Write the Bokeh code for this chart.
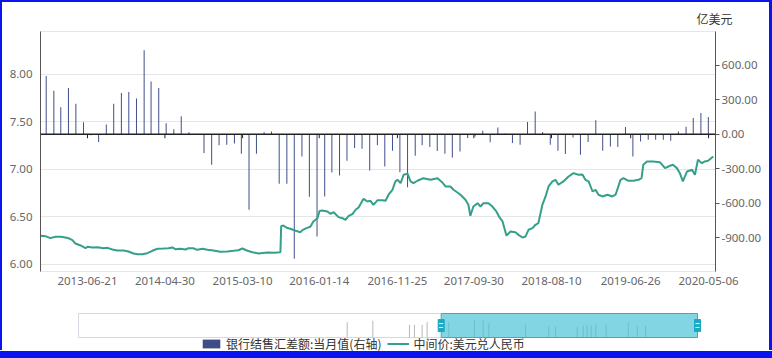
import pandas as pd
from bokeh.plotting import figure
from bokeh.models import (Range1d, LinearAxis, FixedTicker, NumeralTickFormatter,
                          DatetimeTickFormatter, Span, Legend, LegendItem, ColumnDataSource, Div)
from bokeh.layouts import column, row
from bokeh.embed import file_html
from bokeh.resources import INLINE

# ---------------- data ----------------
bar_months = pd.date_range("2013-01-01", "2020-05-01", freq="MS")  # monthly categories
bar_values = [505, 378, 233, 401, 265, 103, -10, -69, 83, 265, 358, 366,
              311, 729, 457, 401, 94, 42, 155, 16, -5, -164, -265, -97,
              -91, -80, -170, -657, -170, 16, 24, -431, -431, -1083, -193, -544,
              -889, -541, -332, -358, -231, -121, -126, -315, -97, -280, -144, -330,
              -462, -187, -97, -112, -147, -170, -202, -150, -34, -20, 30, -71,
              59, 5, -77, -91, 105, 198, 18, -91, -143, -173, -28, -178,
              -69, 120, -144, -106, -112, 62, -193, -63, -48, -48, -48, -57,
              24, 65, 140, 184, 149]

rate_dates = ["2012-12-13", "2013-01-02", "2013-01-22", "2013-02-11", "2013-03-04", "2013-03-24",
              "2013-04-05", "2013-04-21", "2013-05-03", "2013-05-24", "2013-06-13", "2013-06-21",
              "2013-07-11", "2013-07-31", "2013-08-25", "2013-09-10", "2013-09-30", "2013-10-20",
              "2013-11-14", "2013-12-04", "2013-12-24", "2014-01-09", "2014-01-29", "2014-02-18",
              "2014-03-10", "2014-03-31", "2014-04-24", "2014-05-14", "2014-05-30", "2014-06-11",
              "2014-07-02", "2014-07-22", "2014-08-03", "2014-08-23", "2014-09-08", "2014-09-29",
              "2014-10-19", "2014-11-12", "2014-12-10", "2015-01-08", "2015-02-01", "2015-02-21",
              "2015-03-09", "2015-03-30", "2015-04-19", "2015-05-13", "2015-06-19", "2015-07-17",
              "2015-08-10", "2015-08-13", "2015-08-22", "2015-09-07", "2015-09-19", "2015-10-10",
              "2015-10-30", "2015-11-07", "2015-11-23", "2015-12-09", "2015-12-21", "2016-01-07",
              "2016-01-15", "2016-01-27", "2016-02-16", "2016-02-28", "2016-03-12", "2016-04-01",
              "2016-04-17", "2016-04-29", "2016-05-11", "2016-05-28", "2016-06-09", "2016-06-21",
              "2016-07-11", "2016-07-27", "2016-08-08", "2016-08-20", "2016-09-06", "2016-09-25",
              "2016-10-08", "2016-10-20", "2016-11-05", "2016-11-17", "2016-11-25", "2016-12-08",
              "2016-12-20", "2017-01-05", "2017-01-17", "2017-01-29", "2017-02-14", "2017-03-10",
              "2017-04-08", "2017-05-06", "2017-05-26", "2017-06-07", "2017-06-27", "2017-07-10",
              "2017-07-30", "2017-08-07", "2017-08-27", "2017-09-08", "2017-09-16", "2017-09-28",
              "2017-10-15", "2017-10-27", "2017-11-08", "2017-11-28", "2017-12-14", "2017-12-30",
              "2018-01-12", "2018-01-24", "2018-02-09", "2018-02-25", "2018-03-17", "2018-03-29",
              "2018-04-15", "2018-04-27", "2018-05-09", "2018-05-25", "2018-06-06", "2018-06-18",
              "2018-07-04", "2018-07-17", "2018-07-29", "2018-08-14", "2018-08-26", "2018-09-07",
              "2018-09-27", "2018-10-18", "2018-11-07", "2018-11-27", "2018-12-13", "2018-12-25",
              "2019-01-07", "2019-01-23", "2019-02-04", "2019-02-16", "2019-03-04", "2019-03-24",
              "2019-04-13", "2019-04-26", "2019-05-16", "2019-05-28", "2019-06-17", "2019-07-07",
              "2019-07-28", "2019-08-09", "2019-08-16", "2019-08-31", "2019-09-24", "2019-10-22",
              "2019-11-12", "2019-12-02", "2019-12-14", "2019-12-30", "2020-01-11", "2020-01-23",
              "2020-02-09", "2020-02-29", "2020-03-12", "2020-03-24", "2020-04-09", "2020-04-21",
              "2020-05-04", "2020-05-25"]
rate_values = [6.299, 6.295, 6.274, 6.288, 6.288, 6.281,
               6.274, 6.253, 6.218, 6.197, 6.168, 6.183,
               6.176, 6.179, 6.168, 6.172, 6.155, 6.144,
               6.144, 6.134, 6.113, 6.105, 6.105, 6.116,
               6.141, 6.162, 6.165, 6.168, 6.176, 6.158,
               6.162, 6.155, 6.168, 6.168, 6.151, 6.162,
               6.151, 6.144, 6.130, 6.134, 6.141, 6.147,
               6.165, 6.141, 6.126, 6.113, 6.123, 6.120,
               6.126, 6.400, 6.407, 6.380, 6.373, 6.352,
               6.337, 6.358, 6.379, 6.394, 6.449, 6.484,
               6.560, 6.565, 6.555, 6.530, 6.547, 6.495,
               6.484, 6.467, 6.505, 6.530, 6.573, 6.597,
               6.688, 6.660, 6.667, 6.625, 6.674, 6.674,
               6.667, 6.731, 6.783, 6.871, 6.888, 6.853,
               6.941, 6.952, 6.871, 6.853, 6.878, 6.905,
               6.888, 6.905, 6.860, 6.818, 6.818, 6.783,
               6.747, 6.731, 6.678, 6.625, 6.510, 6.607,
               6.642, 6.607, 6.642, 6.642, 6.607, 6.555,
               6.492, 6.450, 6.300, 6.344, 6.337, 6.309,
               6.281, 6.292, 6.362, 6.379, 6.415, 6.432,
               6.625, 6.713, 6.818, 6.871, 6.888, 6.836,
               6.871, 6.923, 6.958, 6.941, 6.945, 6.888,
               6.871, 6.765, 6.783, 6.731, 6.713, 6.731,
               6.713, 6.731, 6.888, 6.905, 6.878, 6.878,
               6.888, 6.905, 7.046, 7.081, 7.081, 7.074,
               7.011, 7.036, 7.046, 7.011, 6.958, 6.871,
               6.976, 6.994, 6.941, 7.099, 7.063, 7.081,
               7.088, 7.134]

x_tick_dates = ["2013-06-21", "2014-04-30", "2015-03-10", "2016-01-14", "2016-11-25",
                "2017-09-30", "2018-08-10", "2019-06-26", "2020-05-06"]
left_ticks = [6.0, 6.5, 7.0, 7.5, 8.0]
right_ticks = [-900, -600, -300, 0, 300, 600]
view_start, view_end = "2012-12-13", "2020-06-03"
full_start, full_end = "2002-05-18", "2020-06-03"
shadow_dates = ["2010-03-18", "2010-12-16", "2012-01-10", "2012-03-03", "2012-05-24", "2012-07-16",
                "2013-03-04", "2013-12-02", "2014-03-05", "2014-05-04", "2015-05-30", "2016-02-01",
                "2016-04-13", "2016-11-30", "2017-02-02", "2017-03-16", "2017-04-28", "2017-06-16",
                "2017-10-05", "2018-05-28", "2018-09-01", "2018-11-28"]
shadow_heights = [0.64, 0.70, 0.53, 0.53, 0.53, 0.64,
                  0.64, 0.71, 0.71, 0.60, 0.53, 0.46,
                  0.46, 0.46, 0.50, 0.50, 0.50, 0.55,
                  0.55, 0.64, 0.50, 0.50]

bar_label = "银行结售汇差额:当月值(右轴)"
line_label = "中间价:美元兑人民币"
unit_label = "亿美元"

# ---------------- styling ----------------
BAR_COLOR = "#3e4c88"
LINE_COLOR = "#35a08a"
AX_FONT = "Noto Sans"
CJK_FONT = "Noto Sans CJK SC"
LBL_COLOR = "#666666"
GRID_COLOR = "#e6e6e6"
FRAME_BLUE = "#0a14f0"

bar_src = ColumnDataSource(dict(x=bar_months + pd.Timedelta(days=4), top=bar_values))
rate_src = ColumnDataSource(dict(x=pd.to_datetime(rate_dates), y=rate_values))

# content block is 767 x 348 px, framed by 2px (top/left), 3px (right), 8px (bottom) strips
p = figure(frame_width=675, frame_height=240, x_axis_type="datetime",
           x_range=Range1d(pd.Timestamp(view_start), pd.Timestamp(view_end)),
           y_range=Range1d(5.923, 8.449),
           output_backend="svg", toolbar_location=None,
           min_border_left=38, min_border_right=54, min_border_top=28, min_border_bottom=30)
p.extra_y_ranges = {"right": Range1d(-1193, 892)}
p.background_fill_color = "white"
p.border_fill_color = "white"
p.outline_line_color = GRID_COLOR

p.title.text = unit_label
p.title.align = "right"
p.title.offset = -17
p.title.standoff = 10
p.title.text_font = CJK_FONT
p.title.text_font_size = "12px"
p.title.text_font_style = "normal"
p.title.text_color = "#333333"

# x axis: labels only
xa = p.xaxis[0]
xa.ticker = FixedTicker(ticks=[pd.Timestamp(d).value / 1e6 for d in x_tick_dates])
xa.formatter = DatetimeTickFormatter(days="%Y-%m-%d", months="%Y-%m-%d", years="%Y-%m-%d")
xa.axis_line_color = None
xa.major_tick_line_color = None
xa.major_tick_out = 0
xa.major_tick_in = 0
xa.minor_tick_line_color = None
xa.minor_tick_out = 0
xa.major_label_standoff = 5
xa.major_label_text_font = AX_FONT
xa.major_label_text_font_size = "11.5px"
xa.major_label_text_color = LBL_COLOR

ya = p.yaxis[0]
ya.ticker = FixedTicker(ticks=left_ticks)
ya.formatter = NumeralTickFormatter(format="0.00")
ya.axis_line_color = "#555555"
ya.major_tick_line_color = None
ya.major_tick_out = 0
ya.major_tick_in = 0
ya.minor_tick_line_color = None
ya.minor_tick_out = 0
ya.major_label_standoff = 8
ya.major_label_text_font = AX_FONT
ya.major_label_text_font_size = "11.5px"
ya.major_label_text_color = LBL_COLOR

ra = LinearAxis(y_range_name="right", ticker=FixedTicker(ticks=right_ticks),
                formatter=NumeralTickFormatter(format="0.00"))
ra.axis_line_color = "#555555"
ra.major_tick_line_color = "#555555"
ra.major_tick_out = 4
ra.major_tick_in = 0
ra.minor_tick_line_color = None
ra.minor_tick_out = 0
ra.major_label_standoff = 2
ra.major_label_text_font = AX_FONT
ra.major_label_text_font_size = "11.5px"
ra.major_label_text_color = LBL_COLOR
p.add_layout(ra, "right")

p.xgrid.visible = False
p.ygrid.ticker = FixedTicker(ticks=left_ticks)
p.ygrid.grid_line_color = GRID_COLOR

bar_width_ms = pd.Timedelta(days=4).total_seconds() * 1000
p.vbar(x="x", top="top", bottom=0, width=bar_width_ms, source=bar_src,
       fill_color=BAR_COLOR, line_color=None, y_range_name="right")
p.line(x="x", y="y", source=rate_src, line_color=LINE_COLOR, line_width=2)

# zero line of the category axis with small ticks
p.add_layout(Span(location=0, dimension="width", y_range_name="right",
                  line_color="#222222", line_width=1.5))
tick_x = pd.to_datetime(x_tick_dates)
p.segment(x0=tick_x, y0=[0] * len(tick_x), x1=tick_x, y1=[-35] * len(tick_x),
          line_color="#222222", line_width=1, y_range_name="right")

# ---------------- slider (data zoom) + legend ----------------
# slider frame is aligned with the main frame; the slider box spans 38 px .. 18 px inside it
fs, fe = pd.Timestamp(full_start), pd.Timestamp(full_end)
dpp = (fe - fs) / 619
s = figure(frame_width=675, frame_height=44, x_axis_type="datetime",
           x_range=Range1d(fs - dpp * 38, fe + dpp * 18), y_range=Range1d(-0.5833, 1.25),
           output_backend="svg", toolbar_location=None,
           x_axis_location=None, y_axis_location=None,
           min_border_left=38, min_border_right=54, min_border_top=6, min_border_bottom=0)
s.grid.visible = False
s.outline_line_color = None
s.background_fill_color = "white"
s.border_fill_color = "white"

s.quad(left=[fs], right=[fe], bottom=[0], top=[1], fill_color="white",
       line_color="#d3d8e2", line_width=1)
s.segment(x0=pd.to_datetime(shadow_dates), y0=[0] * len(shadow_dates),
          x1=pd.to_datetime(shadow_dates), y1=shadow_heights,
          line_color="#b8b8b8", line_width=1)
vs, ve = pd.Timestamp(view_start), pd.Timestamp(view_end)
s.quad(left=[vs], right=[ve], bottom=[0], top=[1], fill_color="#47c1d6",
       fill_alpha=0.68, line_color="#2fb2c8", line_width=1)
s.rect(x=[vs, ve], y=[0.5, 0.5], width=6, height=12, width_units="screen",
       height_units="screen", fill_color="#19a9c1", line_color="#19a9c1")
s.scatter(x=[vs, vs, ve, ve], y=[0.42, 0.58, 0.42, 0.58], marker="dash", size=4,
          line_color="white", line_width=1)

# legend swatches (placeholder renderers with no drawable point)
nan = float("nan")
dummy_bar = s.vbar(x=[nan], top=[nan], bottom=[nan], width=1, fill_color=BAR_COLOR,
                   line_color=None, border_radius=3)
dummy_line = s.line(x=[nan, nan], y=[nan, nan], line_color=LINE_COLOR, line_width=2)
legend = Legend(items=[LegendItem(label=bar_label, renderers=[dummy_bar]),
                       LegendItem(label=line_label, renderers=[dummy_line])],
                orientation="horizontal", location=(160, -1),
                glyph_width=22, glyph_height=11, label_standoff=4, spacing=6,
                padding=0, margin=0, border_line_color=None, background_fill_alpha=0,
                label_text_font=CJK_FONT, label_text_font_size="12px",
                label_text_color="#333333", label_height=12)
s.add_layout(legend, "center")


def strip(w, h):
    return Div(text="", width=w, height=h, margin=0,
               styles={"background-color": FRAME_BLUE})


content = column(p, s, spacing=0)
layout = column(strip(772, 2),
                row(strip(2, 348), content, strip(3, 348), spacing=0),
                strip(772, 8), spacing=0)
open("out.html", "w").write(file_html(layout, INLINE))
